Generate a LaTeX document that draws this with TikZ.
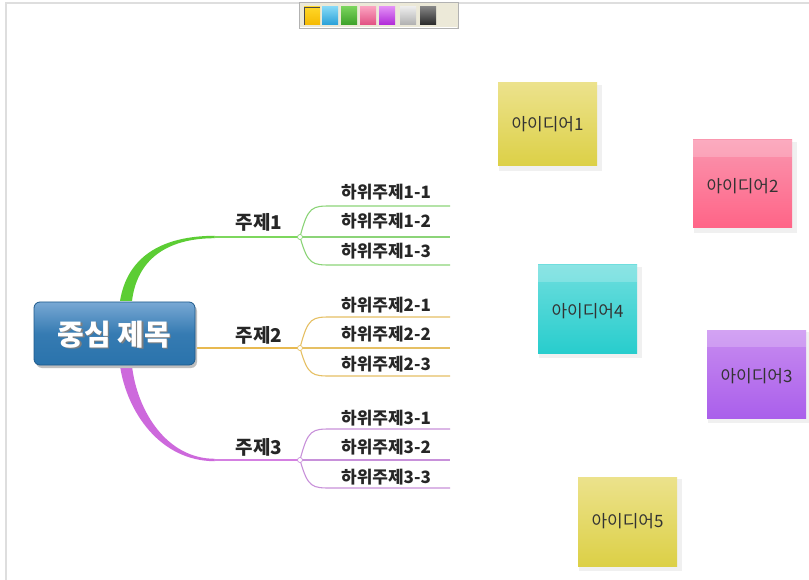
\documentclass[tikz,border=0pt]{standalone}
\usepackage{fontspec}
\setmainfont{Noto Sans CJK KR}
\usetikzlibrary{calc}
\definecolor{gbr}{RGB}{92,205,52}
\definecolor{gsub}{RGB}{140,212,120}
\definecolor{ybr}{RGB}{232,185,80}
\definecolor{ysub}{RGB}{230,192,100}
\definecolor{pbr}{RGB}{205,105,220}
\definecolor{psub}{RGB}{200,145,218}
\definecolor{cblue}{RGB}{42,115,172}
\definecolor{cblueT}{RGB}{120,168,212}
\definecolor{cborder}{RGB}{30,90,140}
\definecolor{tbbg}{RGB}{236,233,216}
\definecolor{frame}{RGB}{222,222,222}
\definecolor{yelT}{RGB}{236,226,140}
\definecolor{yelB}{RGB}{220,208,70}
\definecolor{pinkT}{RGB}{250,150,175}
\definecolor{pinkB}{RGB}{255,100,135}
\definecolor{cyanT}{RGB}{110,222,222}
\definecolor{cyanB}{RGB}{40,205,205}
\definecolor{purT}{RGB}{200,140,240}
\definecolor{purB}{RGB}{170,95,235}
\tikzset{
  sublabel/.style={font=\bfseries\fontsize{17}{19}\selectfont, text=black!85, inner sep=0pt},
  topiclabel/.style={font=\bfseries\fontsize{19}{21}\selectfont, text=black!85, inner sep=0pt},
  notetext/.style={font=\fontsize{17}{19}\selectfont, text=black!80, inner sep=0pt},
  joint/.style={circle, fill=white, draw=#1, line width=0.7pt, inner sep=0pt, minimum size=5pt},
}
\begin{document}
\begin{tikzpicture}[x=1pt,y=-1pt]
\useasboundingbox (0,0) rectangle (809,580);
\fill[white] (0,0) rectangle (809,580);
% frame
\draw[frame, line width=2pt] (6,580) -- (6,3) -- (809,3);

% toolbar
\fill[tbbg] (299,2) rectangle (458,28);
\draw[gray!60, line width=0.6pt] (299,2) rectangle (458,28);
\draw[white, line width=0.6pt] (300,27) -- (457,27);
\foreach \x/\ct/\cb in {304/{rgb,255:red,255;green,215;blue,40}/{rgb,255:red,245;green,185;blue,0},
  322/{rgb,255:red,130;green,215;blue,245}/{rgb,255:red,40;green,160;blue,215},
  341/{rgb,255:red,120;green,210;blue,90}/{rgb,255:red,60;green,160;blue,40},
  360/{rgb,255:red,250;green,160;blue,190}/{rgb,255:red,225;green,80;blue,130},
  379/{rgb,255:red,225;green,140;blue,245}/{rgb,255:red,175;green,40;blue,215},
  400/{rgb,255:red,235;green,235;blue,235}/{rgb,255:red,175;green,175;blue,175},
  420/{rgb,255:red,130;green,130;blue,130}/{rgb,255:red,40;green,40;blue,40}}{
  \shade[top color=\ct, bottom color=\cb] (\x,7) rectangle ++(16,18);
}
\draw[black!70, line width=0.6pt] (304,25) -- (304,7) -- (320,7);

% branches
\fill[gbr] (120,301) .. controls (127,258) and (160,235.8) .. (215,235.8)
  -- (215,238.2) .. controls (166,238.2) and (137,260) .. (132,301) -- cycle;
\draw[gbr!80!white, line width=1.6pt] (214,237) -- (300,237);
\fill[pbr] (120,366) .. controls (127,412) and (160,461.2) .. (215,461.2)
  -- (215,458.8) .. controls (166,458.8) and (137,410) .. (132,366) -- cycle;
\draw[pbr!85!white, line width=1.6pt] (214,460) -- (300,460);
\draw[ybr, line width=1.8pt] (195,348) -- (300,348);

% sub branches
\foreach \y/\c in {237/gsub,348/ysub,460/psub}{
  \draw[\c, line width=1.1pt] (300,\y) .. controls (308,\y-31) and (312,\y-31) .. (332,\y-31) -- (450,\y-31);
  \draw[\c, line width=1.1pt] (300,\y) -- (450,\y);
  \draw[\c, line width=1.1pt] (300,\y) .. controls (308,\y+28) and (312,\y+28) .. (332,\y+28) -- (450,\y+28);
}
\node[joint=gsub] (j1) at (300,237) {};
\node[joint=ysub] (j2) at (300,348) {};
\node[joint=psub] (j3) at (300,460) {};

% central topic
\fill[black!25, rounded corners=6pt] (36,305) rectangle (197,368);
\shade[rounded corners=6pt, top color=cblueT, bottom color=cblue, middle color=cblue!85!cblueT, draw=cborder, line width=0.8pt] (34,302) rectangle (195,365);
\node[font=\bfseries\fontsize{29}{31}\selectfont, text=black!50, inner sep=0pt] at (115.8,336) {중심 제목};
\node[font=\bfseries\fontsize{29}{31}\selectfont, text=white, inner sep=0pt] (c) at (114.5,334.5) {중심 제목};

% topic labels
\node[topiclabel] (t1) at (259,222) {주제1};
\node[topiclabel] (t2) at (259,335) {주제2};
\node[topiclabel] (t3) at (259,447) {주제3};

% sub labels
\foreach \i/\y in {1/192,2/305,3/418}{
  \node[sublabel] (s\i1) at (386,\y) {하위주제\i-1};
  \node[sublabel] (s\i2) at (386,\y+29.5) {하위주제\i-2};
  \node[sublabel] (s\i3) at (386,\y+59) {하위주제\i-3};
}

% sticky notes
\newcommand{\stickynote}[8]{% name, x1,y1,x2,y2, topcolor, bottomcolor, text
  \fill[black!12] (#2+2,#3+3) rectangle (#4+3,#5+3);
  \fill[black!6] (#2+1,#3+2) rectangle (#4+5,#5+5);
  \shade[top color=#6, bottom color=#7] (#2,#3) rectangle (#4,#5);
  \node[notetext] (#1) at ($(#2,#3)!0.5!(#4,#5)$) {#8};
}
\newcommand{\bandnote}[8]{%
  \fill[black!12] (#2+2,#3+3) rectangle (#4+3,#5+3);
  \fill[black!6] (#2+1,#3+2) rectangle (#4+5,#5+5);
  \shade[top color=#6, bottom color=#7] (#2,#3) rectangle (#4,#5);
  \fill[white, opacity=0.2] (#2,#3) rectangle (#4,#3+17);
  \node[notetext] (#1) at ($(#2,#3+4)!0.5!(#4,#5)$) {#8};
}
\stickynote{n1}{498}{83}{597}{166}{yelT}{yelB}{아이디어1}
\bandnote{n2}{693}{140}{792}{228}{pinkT}{pinkB}{아이디어2}
\bandnote{n4}{538}{265}{637}{353}{cyanT}{cyanB}{아이디어4}
\bandnote{n3}{707}{330}{806}{418}{purT}{purB}{아이디어3}
\stickynote{n5}{578}{477}{677}{566}{yelT}{yelB}{아이디어5}
\end{tikzpicture}
\end{document}
